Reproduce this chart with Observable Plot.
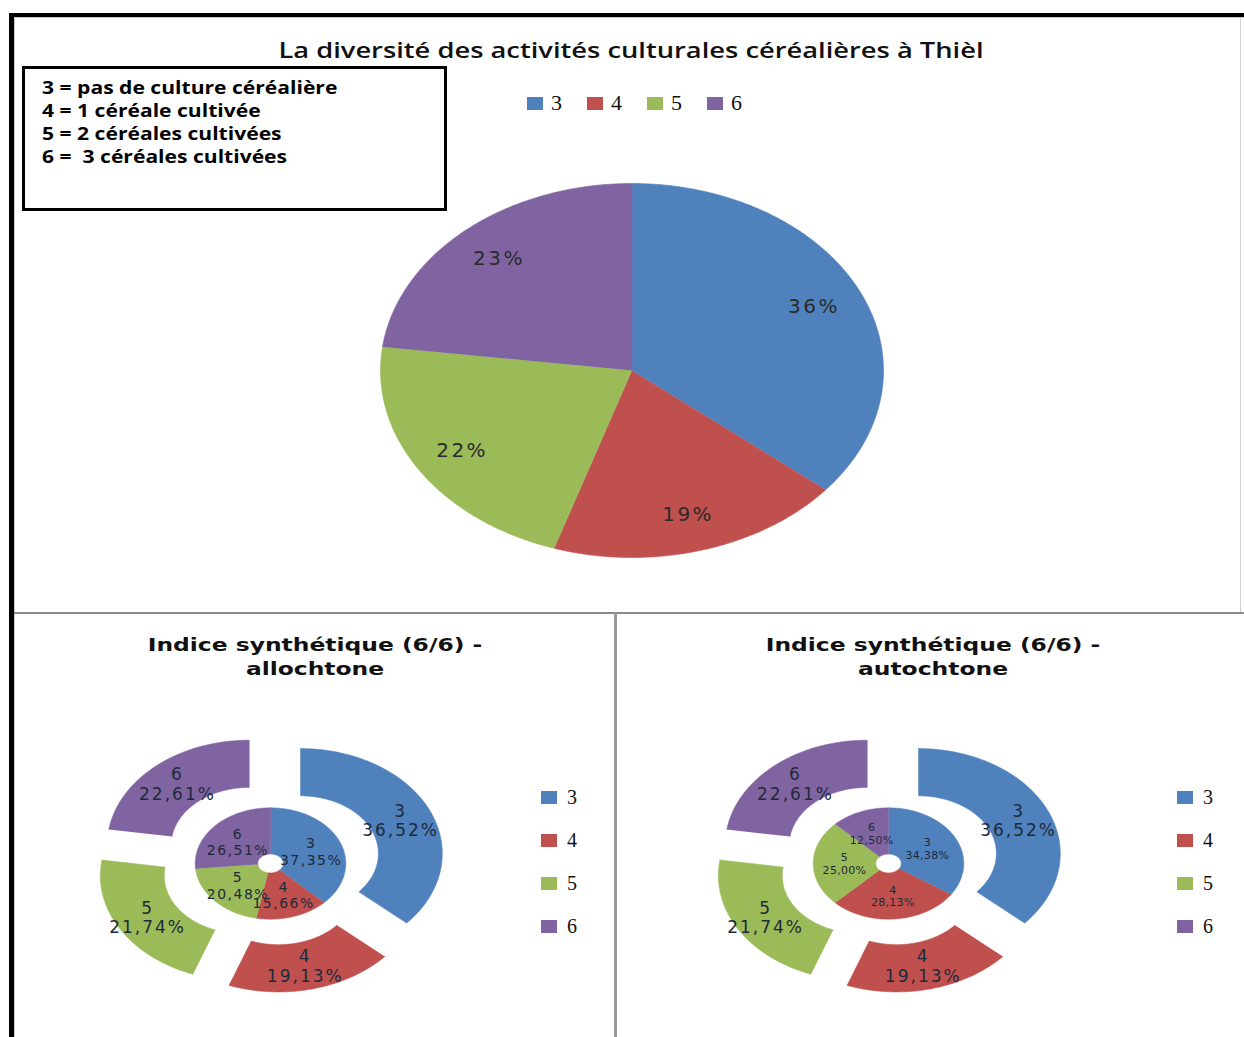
<!DOCTYPE html>
<html><head><meta charset="utf-8">
<script src="https://cdn.jsdelivr.net/npm/d3@7"></script>
<script src="https://cdn.jsdelivr.net/npm/@observablehq/plot@0.6"></script>
<style>
html,body{margin:0;padding:0;background:#fff}
body{width:1244px;height:1037px;position:relative;overflow:hidden;font-family:"DejaVu Sans",sans-serif}
.abs{position:absolute}
.bar{position:absolute}
#mainTitle{left:0;width:1262px;top:36px;text-align:center;font-family:"Open Sans",sans-serif;font-weight:600;font-size:21px;color:#111;white-space:nowrap;transform:scaleX(1.3);transform-origin:631px 50%}
#noteBox{left:22px;top:66px;width:419px;height:139px;border:3px solid #000;background:#fff}
#noteBox div{font-family:"Open Sans",sans-serif;font-weight:700;font-size:17px;line-height:23px;color:#000;white-space:pre}
#noteInner{position:absolute;left:17px;top:7px;transform:scaleX(1.24);transform-origin:0 0}
.hleg{display:flex;align-items:center;font-family:"Liberation Serif",serif;color:#111}
.hleg .it{display:flex;align-items:center}
.sw{display:inline-block}
.ptitle{text-align:center;font-family:"DejaVu Sans",sans-serif;font-weight:bold;font-size:18px;line-height:24px;color:#111;white-space:nowrap;transform:scaleX(1.3)}
.vleg{font-family:"Liberation Serif",serif;color:#111}
.vleg .it{display:flex;align-items:center;height:43px}
svg{overflow:visible}
</style></head><body>
<script>
// ---------- data ----------
const categories = ["3", "4", "5", "6"];
const colors = ["#4F81BD", "#C0504D", "#9BBB59", "#8064A2"];
const mainValues = [36, 19, 22, 23];
const outerValues = [36.52, 19.13, 21.74, 22.61];
const alloInnerValues = [37.35, 15.66, 20.48, 26.51];
const autoInnerValues = [34.38, 28.13, 25.00, 12.50];
const noteLines = ["3 = pas de culture céréalière", "4 = 1 céréale cultivée", "5 = 2 céréales cultivées", "6 =  3 céréales cultivées"];
const mainTitle = "La diversité des activités culturales céréalières à Thièl";
const panelTitles = [["Indice synthétique (6/6) -", "allochtone"], ["Indice synthétique (6/6) -", "autochtone"]];

// ---------- helpers ----------
function add(html, cls, css) {
  const d = document.createElement("div");
  d.className = cls || "abs";
  if (css) Object.assign(d.style, css);
  if (html != null) d.innerHTML = html;
  document.body.appendChild(d);
  return d;
}
function slices(values, r0, r1, explode) {
  const total = d3.sum(values);
  let acc = 0;
  const pts = [], labels = [];
  values.forEach((v, i) => {
    const key = categories[i];
    const a0 = acc / total * 2 * Math.PI, a1 = (acc + v) / total * 2 * Math.PI;
    acc += v;
    const am = (a0 + a1) / 2;
    const ox = explode * Math.sin(am), oy = explode * Math.cos(am);
    const n = Math.max(2, Math.ceil((a1 - a0) / 0.01));
    for (let k = 0; k <= n; k++) {
      const a = a0 + (a1 - a0) * k / n;
      pts.push({key, x: ox + r1 * Math.sin(a), y: oy + r1 * Math.cos(a)});
    }
    if (r0 > 0) {
      for (let k = n; k >= 0; k--) {
        const a = a0 + (a1 - a0) * k / n;
        pts.push({key, x: ox + r0 * Math.sin(a), y: oy + r0 * Math.cos(a)});
      }
    } else pts.push({key, x: ox, y: oy});
    labels.push({key, value: v, am, ox, oy});
  });
  return {pts, labels};
}
const fmt = v => v.toFixed(2).replace(".", ",") + "%";
const colorScale = {domain: categories, range: colors};

// ---------- frame ----------
add(null, "bar", {left: "10px", top: "13px", width: "1234px", height: "4px", background: "#000"});
add(null, "bar", {left: "9px", top: "13px", width: "5px", height: "1024px", background: "#000"});
add(null, "bar", {left: "14px", top: "17px", width: "1230px", height: "1px", background: "#c8c8c8"});
add(null, "bar", {left: "14px", top: "17px", width: "1px", height: "1020px", background: "#c8c8c8"});
add(null, "bar", {left: "1240px", top: "17px", width: "1px", height: "596px", background: "#d0d0d0"});
add(null, "bar", {left: "14px", top: "612px", width: "1230px", height: "2px", background: "#8a8a8a"});
add(null, "bar", {left: "614px", top: "613px", width: "3px", height: "424px", background: "#9a9a9a"});

// ---------- top chart ----------
add(mainTitle, "abs", {}).id = "mainTitle";
const nb = add(null, "abs"); nb.id = "noteBox";
const ni = document.createElement("div"); ni.id = "noteInner"; nb.appendChild(ni);
noteLines.forEach(t => { const d = document.createElement("div"); d.textContent = t; ni.appendChild(d); });

const topLeg = add(null, "abs hleg", {left: "527px", top: "90px", fontSize: "22px"});
categories.forEach((c, i) => {
  const it = document.createElement("div"); it.className = "it";
  it.style.marginRight = "25px";
  it.innerHTML = `<span class="sw" style="width:16px;height:13px;background:${colors[i]};margin-right:8px"></span><span>${c}</span>`;
  topLeg.appendChild(it);
});

{
  const {pts, labels} = slices(mainValues, 0, 1, 0);
  const svg = Plot.plot({
    width: 503, height: 374, margin: 0,
    x: {domain: [-1, 1], axis: null}, y: {domain: [-1, 1], axis: null},
    color: colorScale,
    marks: [
      Plot.line(pts, {x: "x", y: "y", z: "key", fill: "key", stroke: "key", strokeWidth: 0.6, curve: "linear"}),
      Plot.text(labels, {x: d => 0.8 * Math.sin(d.am), y: d => 0.8 * Math.cos(d.am), text: d => d.value + "%",
        fontSize: 20, fontFamily: "DejaVu Sans", fill: "#2a2a2a"})
    ]
  });
  d3.select(svg).selectAll("text").style("letter-spacing", "2.5px");
  const w = add(null, "abs", {left: "380px", top: "183px"});
  w.appendChild(svg);
}

// ---------- bottom donuts ----------
const panels = [
  {inner: alloInnerValues, cx: 270, titleCx: 315, legLeft: 541, innerFont: 14, innerLs: "1.5px", innerLh: 1.2},
  {inner: autoInnerValues, cx: 888, titleCx: 933, legLeft: 1177, innerFont: 11, innerLs: "0.3px", innerLh: 1.15}
];
const cy = 863, SX = 142, SY = 105, HW = 206, HH = 150;
const R_HOLE = 0.09, R_MID = 0.53, R_RING = 0.55, R_OUT = 1, EXPLODE = 0.23;

panels.forEach((p, pi) => {
  add(panelTitles[pi].join("<br>"), "abs ptitle", {left: (p.titleCx - 300) + "px", width: "600px", top: "633px"});
  const inner = slices(p.inner, R_HOLE, R_MID, 0);
  const outer = slices(outerValues, R_RING, R_OUT, EXPLODE);
  const rOutLab = (R_RING + R_OUT) / 2, rInLab = (R_HOLE + R_MID) / 2;
  const svg = Plot.plot({
    width: 2 * HW, height: 2 * HH, margin: 0,
    x: {domain: [-HW / SX, HW / SX], axis: null}, y: {domain: [-HH / SY, HH / SY], axis: null},
    color: colorScale,
    marks: [
      Plot.line(outer.pts, {x: "x", y: "y", z: "key", fill: "key", stroke: "key", strokeWidth: 0.6, curve: "linear"}),
      Plot.line(inner.pts, {x: "x", y: "y", z: "key", fill: "key", stroke: "key", strokeWidth: 0.6, curve: "linear"}),
      Plot.text(outer.labels, {x: d => d.ox + rOutLab * Math.sin(d.am), y: d => d.oy + rOutLab * Math.cos(d.am),
        text: d => d.key + "\n" + fmt(d.value), fontSize: 17, lineHeight: 1.15, fontFamily: "DejaVu Sans", fill: "#1e2a3a"}),
      Plot.text(inner.labels, {x: d => rInLab * Math.sin(d.am), y: d => rInLab * Math.cos(d.am),
        text: d => d.key + "\n" + fmt(d.value), fontSize: p.innerFont, lineHeight: p.innerLh, fontFamily: "DejaVu Sans", fill: "#1e2a3a"})
    ]
  });
  d3.select(svg).selectAll("text").style("letter-spacing", function() {
    const fs = +this.getAttribute("font-size") || +d3.select(this.parentNode).attr("font-size");
    return fs >= 16 ? "2px" : p.innerLs;
  });
  const w = add(null, "abs", {left: (p.cx - HW) + "px", top: (cy - HH) + "px"});
  w.appendChild(svg);

  const leg = add(null, "abs vleg", {left: p.legLeft + "px", top: "776px", fontSize: "20px"});
  categories.forEach((c, i) => {
    const it = document.createElement("div"); it.className = "it";
    it.innerHTML = `<span class="sw" style="width:16px;height:13px;background:${colors[i]};margin-right:10px"></span><span>${c}</span>`;
    leg.appendChild(it);
  });
});
</script>
</body></html>
